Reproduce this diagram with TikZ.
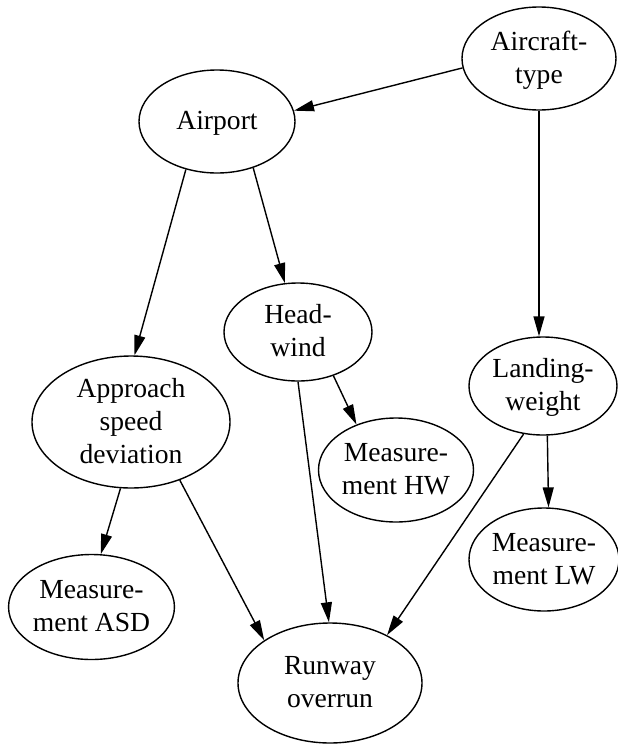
\documentclass[tikz,border=0pt]{standalone}
\usepackage{fontspec}
\setmainfont{Liberation Serif}
\usetikzlibrary{shapes.geometric,arrows.meta}
\newcommand\gvs{\rule[-8.5pt]{0pt}{33pt}}
\begin{document}
\begin{tikzpicture}[x=1pt,y=-1pt,
  bn/.style={ellipse, draw, line width=1.4pt, inner xsep=0pt, inner ysep=-6pt, align=center,
    font=\fontsize{27.6}{33}\selectfont},
  arr/.style={-{Triangle[length=20pt,width=11pt]}, line width=1.4pt}]
\useasboundingbox (0,0) rectangle (618,745);
\node[bn, minimum width=154pt, minimum height=103pt] (aircraft) at (539,58.5) {\gvs Aircraft-\\\gvs type};
\node[bn, minimum width=156pt, minimum height=103pt] (airport) at (217,121.5) {\gvs Airport};
\node[bn, minimum width=148pt, minimum height=98pt] (headwind) at (298,332) {\gvs Head-\\\gvs wind};
\node[bn, minimum width=198pt, minimum height=132pt] (approach) at (131,422) {\gvs Approach\\\gvs speed\\\gvs deviation};
\node[bn, minimum width=148pt, minimum height=98pt] (landing) at (543,386) {\gvs Landing-\\\gvs weight};
\node[bn, minimum width=155pt, minimum height=104pt] (meashw) at (396,470) {\gvs Measure-\\\gvs ment HW};
\node[bn, minimum width=150pt, minimum height=103pt] (measlw) at (544,559.5) {\gvs Measure-\\\gvs ment LW};
\node[bn, minimum width=163pt, minimum height=105pt] (measasd) at (91.5,607) {\gvs Measure-\\\gvs ment ASD};
\node[bn, minimum width=184pt, minimum height=120pt] (runway) at (330,683) {\gvs Runway\\\gvs overrun};

\draw[arr] (aircraft.187) -- (airport.8);
\draw[arr] (aircraft.south) -- (aircraft.south |- landing.north);
\draw[arr] (airport.308) -- (headwind.105);
\draw[arr] (airport.237) -- (approach.87);
\draw[arr] (headwind.309) -- (meashw.131);
\draw[arr] (headwind.270) -- (runway.91);
\draw[arr] (approach.261) -- (measasd.80);
\draw[arr] (approach.310) -- (runway.147);
\draw[arr] (landing.275) -- (measlw.85);
\draw[arr] (landing.248) -- (runway.40);
\end{tikzpicture}
\end{document}
